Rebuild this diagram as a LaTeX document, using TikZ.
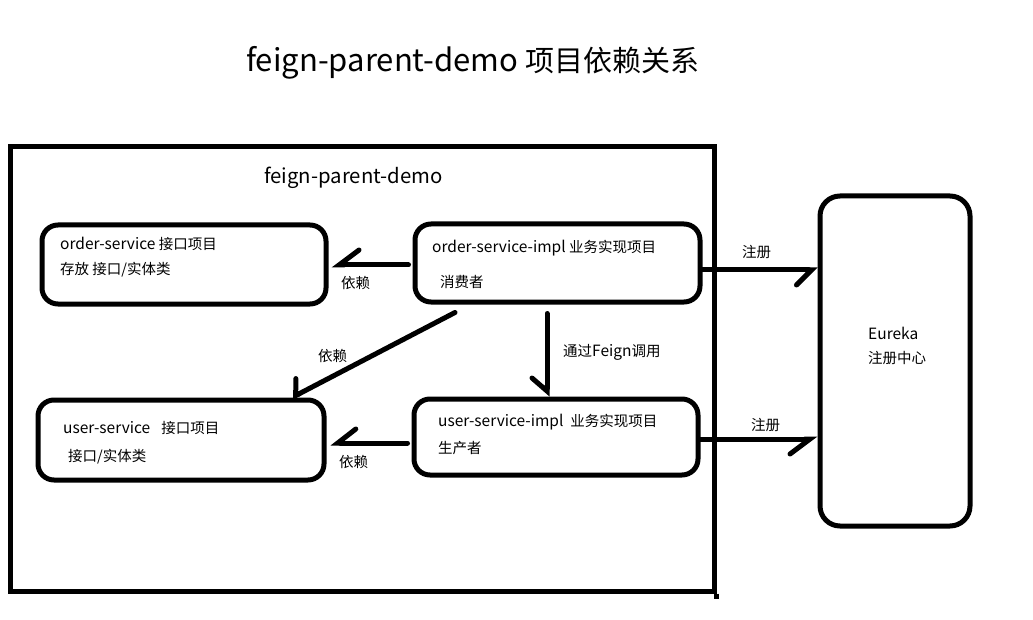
\documentclass[tikz,border=0pt]{standalone}
\usepackage{fontspec}
\setmainfont{Noto Sans CJK SC}[Scale=1.07]
\newfontfamily\cj{Noto Sans CJK SC}
\usetikzlibrary{arrows.meta,calc}
\begin{document}
\begin{tikzpicture}[x=1pt,y=-1pt,
  box/.style={draw, line width=5pt, rounded corners=16pt, inner sep=0pt},
  frame/.style={draw, line width=5pt, inner sep=0pt},
  txt/.style={anchor=west, inner sep=0pt, font=\fontsize{14.5}{17}\selectfont},
  arr/.style 2 args={line width=5pt, line cap=round,
    -{Straight Barb[harpoon, swap, length=#1pt, width=#2pt, line cap=round]}}
]
\useasboundingbox[fill=white] (0,0) rectangle (1033,620);

% title
\node[anchor=west, inner sep=0pt, font=\fontsize{29}{34}\selectfont] (title) at (246,63) {feign-parent-demo {\cj 项目依赖关系}};

% outer frame
\node[frame, minimum width=704pt, minimum height=444pt] (outer) at (362,369) {};
\draw[line width=5pt] (outer.south east) -- ++(0,5);
\node[anchor=west, inner sep=0pt, font=\fontsize{19}{23}\selectfont] (parent) at (264,178) {feign-parent-demo};

% boxes
\node[box, minimum width=284pt, minimum height=79pt] (os) at (184,264.5) {};
\node[box, minimum width=285pt, minimum height=78pt] (oimpl) at (557.5,263) {};
\node[box, minimum width=284pt, minimum height=76pt] (uimpl) at (556,437) {};
\node[box, minimum width=286pt, minimum height=80pt] (us) at (181,440) {};
\node[box, rounded corners=20pt, minimum width=150pt, minimum height=330pt] (eu) at (895,361) {};

% box texts
\node[txt] (ost1) at (60,244) {order-service {\cj 接口项目}};
\node[txt] (ost2) at (60,270) {\cj 存放 接口/实体类};
\node[txt] (oit1) at (432,248) {order-service-impl {\cj 业务实现项目}};
\node[txt] (oit2) at (440,282) {\cj 消费者};
\node[txt] (uit1) at (438,422) {user-service-impl\hspace{7pt}{\cj 业务实现项目}};
\node[txt] (uit2) at (438,448) {\cj 生产者};
\node[txt] (ust1) at (63,428) {user-service\hspace{11pt}{\cj 接口项目}};
\node[txt] (ust2) at (68,457) {\cj 接口/实体类};
\node[txt] (eut1) at (868,333) {Eureka};
\node[txt] (eut2) at (868,358) {\cj 注册中心};

% connectors
\coordinate (a1s) at ($(oimpl.west |- 0,265)+(-4,0)$);
\draw[arr={20}{30}] (a1s) -- ($(os.east |- a1s)+(3,0)$);
\node[txt] (l1) at (341,283) {\cj 依赖};

\coordinate (a2s) at ($(oimpl.south)+(-10.5,9)$);
\draw[arr={13}{30}] (a2s) -- (a2s |- uimpl.north);
\node[txt] (l2) at (563,352) {{\cj 通过}Feign{\cj 调用}};

\coordinate (a3s) at ($(oimpl.south)+(-102.5,8)$);
\draw[arr={8}{30}] (a3s) -- ($(us.north)+(111,0)$);
\node[txt] (l3) at (318,356) {\cj 依赖};

\coordinate (a4s) at ($(uimpl.west |- 0,443)+(-4,0)$);
\draw[arr={18}{28}] (a4s) -- ($(us.east |- a4s)+(4,0)$);
\node[txt] (l4) at (339,462) {\cj 依赖};

\coordinate (a5s) at (oimpl.east |- 0,270);
\draw[arr={15}{30}] (a5s) -- (a5s -| eu.west);
\node[txt] (l5) at (742,252) {\cj 注册};

\coordinate (a6s) at (uimpl.east |- 0,439);
\draw[arr={20}{30}] (a6s) -- (a6s -| eu.west);
\node[txt] (l6) at (751,425) {\cj 注册};
\end{tikzpicture}
\end{document}
